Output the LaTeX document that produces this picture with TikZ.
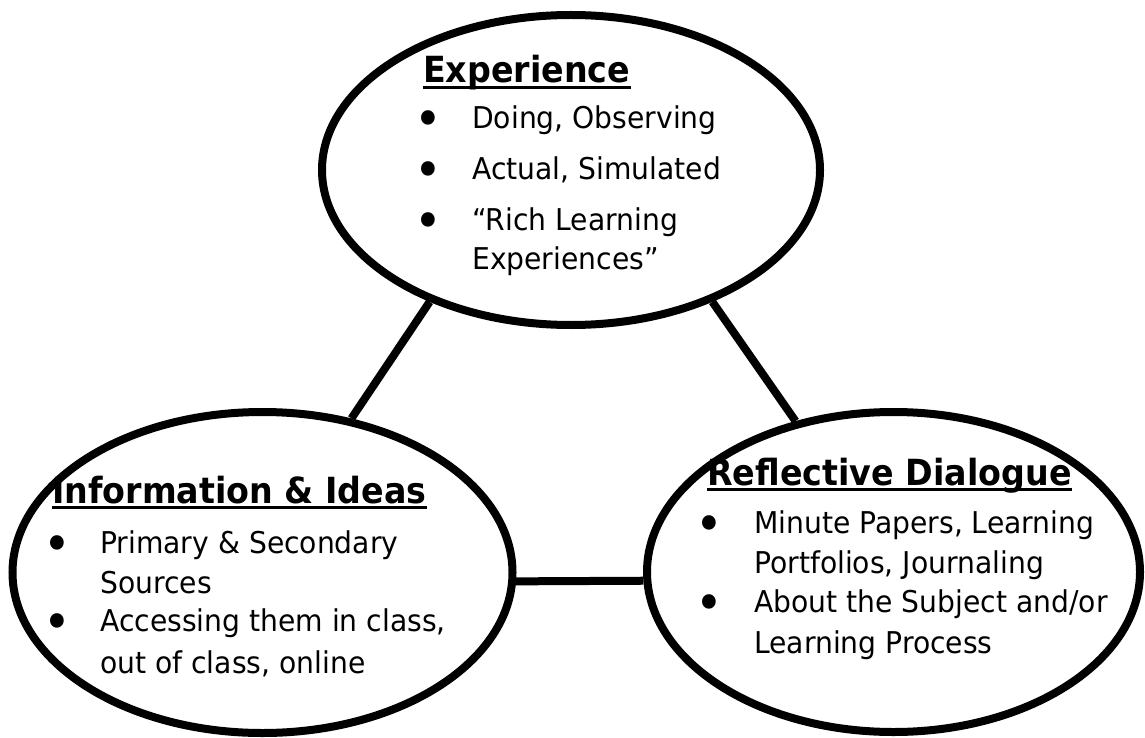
\documentclass[tikz,border=0pt]{standalone}
\usepackage{fontspec}
\setmainfont{DejaVu Sans}[FakeStretch=0.94]
\newfontfamily\headfont{DejaVu Sans}[FakeStretch=0.925]
\usetikzlibrary{shapes.geometric}

\tikzset{
  bubble/.style={ellipse, draw, line width=8pt, fill=white, inner sep=0pt},
  link/.style={line width=8pt},
  heading/.style={anchor=base west, inner sep=0pt, font=\headfont\bfseries\fontsize{36}{40}\selectfont},
  item/.style={anchor=base west, inner sep=0pt, font=\fontsize{30}{34}\selectfont},
  dot/.style={anchor=base, inner sep=0pt, font=\fontsize{50}{50}\selectfont},
  uline/.style={line width=2.5pt},
}

\begin{document}
\begin{tikzpicture}[x=1pt, y=-1pt]
\useasboundingbox (0,0) rectangle (1145,738);

% the three circles
\node[bubble, minimum width=498pt, minimum height=310pt] (exp) at (571,170) {};
\node[bubble, minimum width=500pt, minimum height=321pt] (info) at (262.5,572.5) {};
\node[bubble, minimum width=493pt, minimum height=320pt] (refl) at (893.5,572) {};

\draw[link] (exp.223) -- (info.60);
\draw[link] (exp.317) -- (refl.123);
\draw[link] (info.-2) -- (refl.182);

% headings
\node[heading] (hexp) at (423,83) {Experience};
\node[heading] (hinfo) at (52,503) {Information \& Ideas};
\node[heading] (hrefl) at (707,485) {Reflective Dialogue};
\foreach \h in {hexp, hinfo, hrefl}
  \draw[uline] ([yshift=-4.5pt]\h.base west) -- ([yshift=-4.5pt]\h.base east);

% bullets
\foreach \x/\y [count=\i] in {428/129, 428/179, 428/230, 57/553, 57/631, 709/533, 709/612}
  \node[dot] (bul\i) at (\x,\y+8) {•};

% Experience
\node[item] (e1) at (472,129) {Doing, Observing};
\node[item] (e2) at (472,179) {Actual, Simulated};
\node[item] (e3) at (472,230) {“Rich Learning};
\node[item] (e3b) at (472,269) {Experiences”};

% Information & Ideas
\node[item] (i1) at (100,553) {Primary \& Secondary};
\node[item] (i1b) at (100,593) {Sources};
\node[item] (i2) at (100,631) {Accessing them in class,};
\node[item] (i2b) at (100,673) {out of class, online};

% Reflective Dialogue
\node[item] (r1) at (754,533) {Minute Papers, Learning};
\node[item] (r1b) at (754,573) {Portfolios, Journaling};
\node[item] (r2) at (754,612) {About the Subject and/or};
\node[item] (r2b) at (754,653) {Learning Process};
\end{tikzpicture}
\end{document}
